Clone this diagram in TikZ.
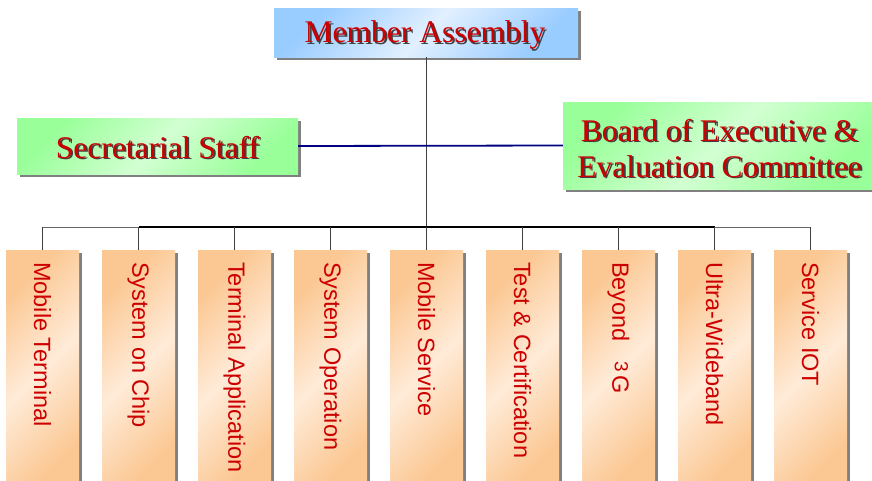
\documentclass[tikz,border=0pt]{standalone}
\usepackage{fontspec}
\setmainfont{Liberation Serif}
\setsansfont{Liberation Sans}
\usetikzlibrary{shadows}
\definecolor{txtred}{HTML}{CC0000}
\definecolor{shadowgray}{HTML}{808080}
\definecolor{blueD}{HTML}{99CCFF}
\definecolor{blueL}{HTML}{E2F0FF}
\definecolor{greenD}{HTML}{99FF99}
\definecolor{greenL}{HTML}{D2FFD2}
\definecolor{orangeD}{HTML}{FBC792}
\definecolor{orangeL}{HTML}{FFEBD8}
\definecolor{navyline}{HTML}{000080}
\newcommand\shtxt[1]{\rlap{\kern1.8pt\raisebox{-1.8pt}{\textcolor{black!75}{#1}}}\textcolor{txtred}{#1}}
\tikzset{
  boxbase/.style={rectangle, inner sep=0pt, draw=none,
    drop shadow={shadow xshift=3pt, shadow yshift=-3pt, fill=shadowgray, opacity=1}},
  bluebox/.style={boxbase, left color=blueD, right color=blueD, middle color=blueL, shading angle=45},
  greenbox/.style={boxbase, left color=greenD, right color=greenD, middle color=greenL, shading angle=45},
  orangebox/.style={boxbase, left color=orangeD, right color=orangeD, middle color=orangeL, shading angle=45,
    minimum width=73pt, minimum height=240pt, anchor=north},
  headtxt/.style={font=\fontsize{31.5}{36}\selectfont, align=center, inner sep=0pt},
  unittxt/.style={font=\sffamily\fontsize{23.5}{24}\selectfont, text=txtred, rotate=-90, anchor=west, inner sep=0pt},
  conn/.style={draw=black!75, line width=1pt},
}
\begin{document}
\begin{tikzpicture}[x=1pt, y=-1pt]
\useasboundingbox (0,0) rectangle (872,480);
\clip (0,0) rectangle (872,480);
% top boxes
\node[bluebox, minimum width=304pt, minimum height=49pt] (ma) at (426,32.5) {};
\node[headtxt] (matxt) at (425,36) {\shtxt{Member Assembly}};
\node[greenbox, minimum width=281pt, minimum height=56pt] (ss) at (157.5,146) {};
\node[headtxt] (sstxt) at (157.5,148) {\shtxt{Secretarial Staff}};
\node[greenbox, minimum width=313pt, minimum height=87pt] (be) at (719.5,145.5) {};
\node[headtxt] (betxt) at (719.5,149) {\shtxt{Board of Executive \&}\\\shtxt{Evaluation Committee}};
% bottom boxes
\foreach \i/\t in {0/Mobile Terminal,1/System on Chip,2/Terminal Application,3/System Operation,4/Mobile Service,5/Test \& Certification,6/{Beyond\hspace{20pt}\raisebox{2.5pt}{\fontsize{19}{19}\selectfont 3}\hspace{3pt}G},7/Ultra-Wideband,8/Service IOT}{
  \node[orangebox] (u\i) at ({42.5+96*\i},250) {};
  \node[unittxt] (ut\i) at ({42.5+96*\i},262) {\t};
}
% connectors
\coordinate (bus) at (426,227);
\draw[conn] (ma.south -| bus) -- (bus);
\draw[navyline, line width=1.8pt] (ss.east) -- (be.west);
\draw[shadowgray!80!black, line width=1pt] (u0.north |- bus) -- (u1.north |- bus);
\draw[black, line width=1.3pt] (u1.north |- bus) -- (u2.north |- bus);
\draw[black, line width=2pt] (u2.north |- bus) -- (u6.north |- bus);
\draw[black, line width=1.3pt] (u6.north |- bus) -- (u7.north |- bus);
\draw[shadowgray!80!black, line width=1pt] (u7.north |- bus) -- (u8.north |- bus);
\foreach \i in {0,...,8}{
  \draw[conn] (u\i.north |- bus) -- (u\i.north);
}
\end{tikzpicture}
\end{document}
